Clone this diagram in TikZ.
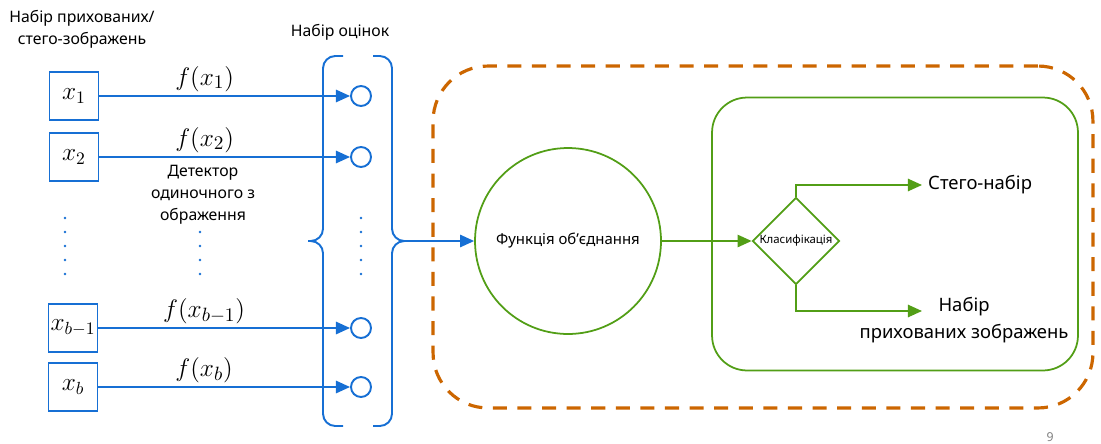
\documentclass[tikz,border=0pt]{standalone}
\usepackage{fontspec}
\setmainfont{Noto Sans}
\usetikzlibrary{arrows.meta,positioning,shapes.geometric}
\definecolor{lineblue}{RGB}{22,111,212}
\definecolor{leafgreen}{RGB}{82,158,22}
\definecolor{rustorange}{RGB}{204,102,0}

\begin{document}
\begin{tikzpicture}[x=0.02cm,y=-0.02cm,
  every node/.style={font=\fontsize{9}{12.5}\selectfont},
  imgbox/.style={draw=lineblue,line width=1.1pt,minimum width=0.98cm,minimum height=0.96cm,inner sep=0pt,font=\fontsize{14}{16}\selectfont},
  score/.style={draw=lineblue,line width=1.1pt,circle,minimum size=0.4cm,inner sep=0pt},
  flabel/.style={above,pos=0.42,inner sep=2pt,font=\fontsize{15}{17}\selectfont},
  barrow/.style={draw=lineblue,line width=1.1pt,-{Triangle[length=8pt,width=7pt]}},
  garrow/.style={draw=leafgreen,line width=1pt,-{Triangle[length=8pt,width=7pt]}}]
  \useasboundingbox (0,0) rectangle (1101,443);

  % input images and their scores
  \node[align=center] (setlbl) at (82,29) {Набір прихованих/\\стего-зображень};
  \node (scorelbl) at (340,32) {Набір оцінок};
  \node[imgbox] (x1) at (74,96) {$x_1$};
  \node[imgbox] (x2) at (74,157) {$x_2$};
  \node[imgbox] (xb1) at (73,328) {$x_{b-1}$};
  \node[imgbox] (xb) at (73,387) {$x_b$};
  \node[score] (s1) at (361,96) {};
  \node[score] (s2) at (361,157) {};
  \node[score] (sb1) at (361,328) {};
  \node[score] (sb) at (361,387) {};
  \draw[barrow] (x1) -- node[flabel] {$f(x_1)$} (s1);
  \draw[barrow] (x2) -- node[flabel] {$f(x_2)$} (s2);
  \draw[barrow] (xb1) -- node[flabel] {$f(x_{b-1})$} (sb1);
  \draw[barrow] (xb) -- node[flabel] {$f(x_b)$} (sb);
  \node[align=center] (detlbl) at (203,195) {Детектор\\одиночного з\\ображення};
  \foreach \yy in {218,232,246,260,274} {
    \fill[lineblue] (65,\yy) circle (0.8pt);
    \fill[lineblue] (361,\yy) circle (0.8pt);
  }
  \foreach \yy in {232,246,260,274}
    \fill[lineblue] (200,\yy) circle (0.8pt);

  % braces round the scores
  \draw[lineblue,line width=1.1pt,rounded corners=7pt] (343,56) -- (323,56) -- (323,241) -- (308,241);
  \draw[lineblue,line width=1.1pt,rounded corners=7pt] (308,241) -- (323,241) -- (323,426) -- (343,426);
  \draw[lineblue,line width=1.1pt,rounded corners=7pt] (373,56) -- (392,56) -- (392,241) -- (407,241);
  \draw[lineblue,line width=1.1pt,rounded corners=7pt] (407,241) -- (392,241) -- (392,426) -- (373,426);
  \coordinate (rtip) at (407,241);

  % fusion and classification
  \node[draw=rustorange,line width=1.8pt,dash pattern=on 8pt off 6pt,rounded corners=1.1cm,minimum width=13.2cm,minimum height=6.84cm] (combo) at (763,237) {};
  \node[draw=leafgreen,line width=1pt,rounded corners=0.7cm,minimum width=7.32cm,minimum height=5.46cm] (clsbox) at (895,234) {};
  \node[circle,draw=leafgreen,line width=1pt,minimum size=3.72cm,inner sep=0pt,font=\fontsize{8.5}{10}\selectfont] (merge) at (568,241) {Функція об’єднання};
  \node[diamond,draw=leafgreen,line width=1pt,minimum size=1.74cm,inner sep=0pt,label={[font=\fontsize{6.5}{8}\selectfont]center:Класифікація}] (cls) at (796,241) {};
  \draw[barrow] (rtip) -- (merge);
  \draw[garrow] (merge) -- (cls);
  \node[anchor=west,font=\fontsize{10.5}{13}\selectfont] (stego) at (922,185) {Стего-набір};
  \node[align=center,font=\fontsize{10.5}{15}\selectfont] (hidden) at (964,320) {Набір\\прихованих зображень};
  \coordinate (hidin) at (922,311);
  \draw[garrow] (cls.north) |- (stego.west);
  \draw[garrow] (cls.south) |- (hidin);

  \node[text=gray,font=\fontsize{7}{8}\selectfont] (pagenum) at (1050,437) {9};
\end{tikzpicture}
\end{document}
